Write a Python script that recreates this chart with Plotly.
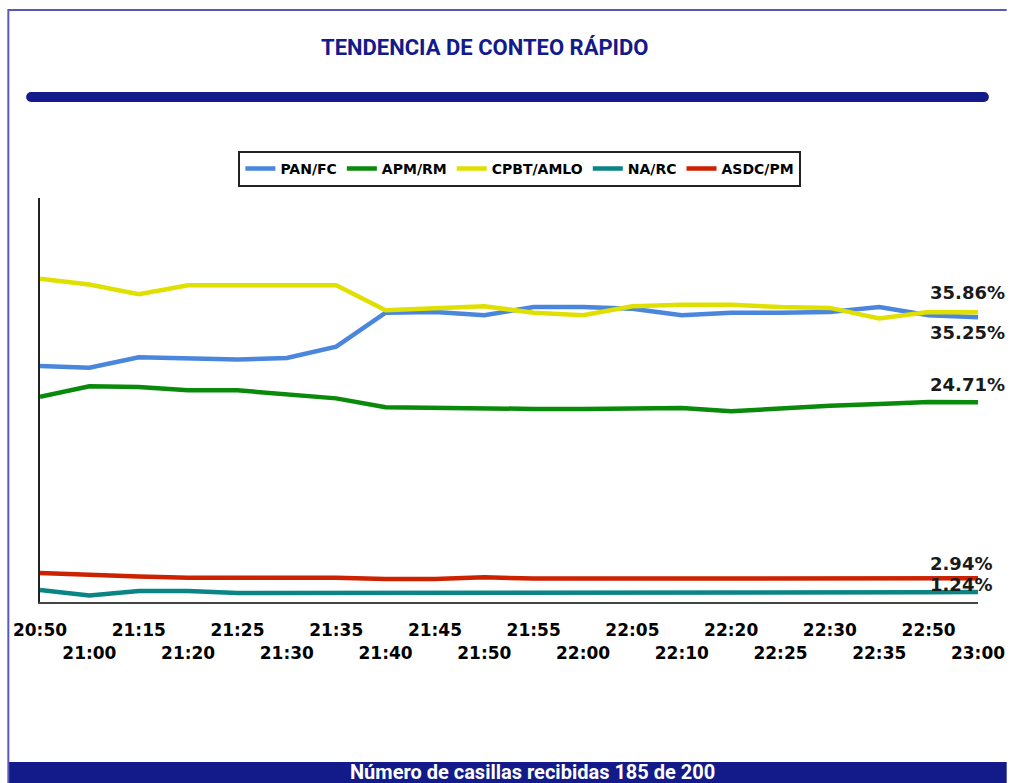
import plotly.graph_objects as go

categories = ["20:50", "21:00", "21:15", "21:20", "21:25", "21:30", "21:35", "21:40",
              "21:45", "21:50", "21:55", "22:00", "22:05", "22:10", "22:20", "22:25",
              "22:30", "22:35", "22:50", "23:00"]

pan_fc = [29.2, 29.0, 30.3, 30.2, 30.0, 30.2, 31.6, 35.8, 35.9, 35.5, 36.5, 36.5,
          36.3, 35.5, 35.8, 35.8, 35.9, 36.5, 35.5, 35.25]
apm_rm = [25.4, 26.7, 26.6, 26.2, 26.2, 25.7, 25.2, 24.1, 24.0, 24.0, 23.9, 23.9,
          24.0, 24.0, 23.6, 24.0, 24.3, 24.5, 24.75, 24.71]
cpbt_amlo = [40.0, 39.3, 38.1, 39.2, 39.2, 39.2, 39.2, 36.1, 36.4, 36.6, 35.8, 35.5,
             36.6, 36.8, 36.8, 36.5, 36.4, 35.1, 35.9, 35.86]
na_rc = [1.5, 0.8, 1.35, 1.35, 1.1, 1.1, 1.1, 1.1, 1.1, 1.1, 1.1, 1.1,
         1.1, 1.1, 1.1, 1.1, 1.1, 1.15, 1.2, 1.24]
asdc_pm = [3.6, 3.35, 3.15, 3.0, 3.0, 3.0, 3.0, 2.85, 2.85, 3.05, 2.9, 2.9,
           2.9, 2.9, 2.9, 2.9, 2.9, 2.92, 2.93, 2.94]

series_names = ["PAN/FC", "APM/RM", "CPBT/AMLO", "NA/RC", "ASDC/PM"]
series_values = [pan_fc, apm_rm, cpbt_amlo, na_rc, asdc_pm]
series_colors = ["#4a86dc", "#0a8a0a", "#e0e000", "#0a8484", "#cc2200"]

end_labels = ["35.25%", "24.71%", "35.86%", "1.24%", "2.94%"]
label_yshift = [-15, 18, 20, 7, 15]

W, H = 1017, 783
L, R, T, B = 40, 29, 198, 181
PW = W - L - R
PH = H - T - B


def px(x):
    return (x - L) / PW


def py(y):
    return (H - B - y) / PH


NAVY = "#131a8a"

fig = go.Figure()
for name, vals, col in zip(series_names, series_values, series_colors):
    fig.add_trace(go.Scatter(x=categories, y=vals, name=name, mode="lines",
                             line=dict(color=col, width=4.5)))

ticktext = [c if i % 2 == 0 else "<br>" + c for i, c in enumerate(categories)]

annotations = []
for vals, lab, ys in zip(series_values, end_labels, label_yshift):
    annotations.append(dict(x=categories[-1], y=vals[-1], xref="x", yref="y",
                            text=lab, showarrow=False, xanchor="left", xshift=-50,
                            yshift=ys,
                            font=dict(family="DejaVu Sans", size=18, color="#1a1a1a",
                                      weight="bold")))

annotations.append(dict(x=px(490), y=py(48), xref="paper", yref="paper",
                        text="TENDENCIA DE CONTEO RÁPIDO", showarrow=False,
                        xanchor="center", yanchor="middle",
                        font=dict(family="Roboto, sans-serif",
                                  size=22, color=NAVY, weight="bold")))
annotations.append(dict(x=px(538), y=py(772), xref="paper", yref="paper",
                        text="Número de casillas recibidas 185 de 200", showarrow=False,
                        xanchor="center", yanchor="middle",
                        font=dict(family="Roboto, sans-serif",
                                  size=20, color="white", weight="bold")))

shapes = [
    dict(type="rect", xref="paper", yref="paper", x0=px(8), x1=px(1017),
         y0=py(783), y1=py(762), fillcolor=NAVY, line=dict(width=0), layer="below"),
    dict(type="line", xref="paper", yref="paper", x0=px(8), x1=px(8),
         y0=py(9), y1=py(783), line=dict(color="#5a5ab4", width=2)),
    dict(type="line", xref="paper", yref="paper", x0=px(8), x1=px(1017),
         y0=py(10), y1=py(10), line=dict(color="#5a5ab4", width=2)),
    dict(type="rect", xref="paper", yref="paper", x0=px(31), x1=px(994),
         y0=py(102), y1=py(92), fillcolor=NAVY, line=dict(width=0)),
    dict(type="circle", xref="paper", yref="paper", x0=px(26), x1=px(36),
         y0=py(102), y1=py(92), fillcolor=NAVY, line=dict(width=0)),
    dict(type="circle", xref="paper", yref="paper", x0=px(989), x1=px(999),
         y0=py(102), y1=py(92), fillcolor=NAVY, line=dict(width=0)),
]

fig.update_layout(
    width=W, height=H, autosize=False,
    margin=dict(l=L, r=R, t=T, b=B, pad=0),
    paper_bgcolor="white", plot_bgcolor="white",
    showlegend=True,
    legend=dict(orientation="h", x=px(525), xanchor="center", y=py(151), yanchor="top",
                bordercolor="#222222", borderwidth=2, bgcolor="white",
                font=dict(family="DejaVu Sans", size=14, color="black", weight="bold"),
                itemwidth=30, tracegroupgap=0, itemclick=False),
    xaxis=dict(type="category", range=[0, len(categories) - 1], showgrid=False,
               zeroline=False, showline=True, linecolor="#444444", linewidth=2,
               ticks="", tickvals=categories, ticktext=ticktext, tickangle=0,
               ticklabelstandoff=12,
               tickfont=dict(family="DejaVu Sans", size=17, color="black", weight="bold")),
    yaxis=dict(range=[0, 50], showgrid=False, zeroline=False, showline=True,
               linecolor="#222222", linewidth=2, showticklabels=False, ticks=""),
    annotations=annotations,
    shapes=shapes,
)

fig.write_html(
    "out.html",
    config={"displayModeBar": False},
    post_script="document.documentElement.style.margin='0';"
                "document.body.style.margin='0';"
                "document.body.style.overflow='hidden';",
)
